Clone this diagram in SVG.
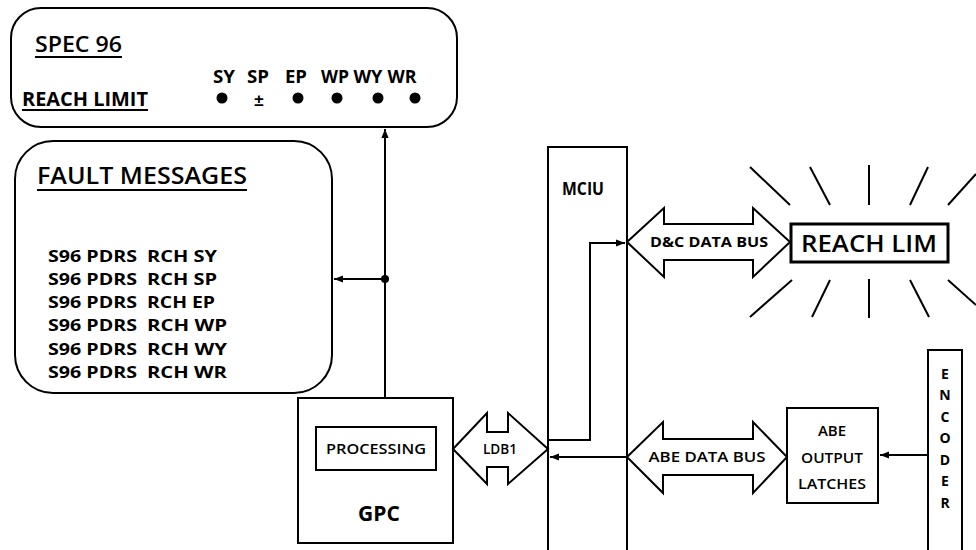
<svg xmlns="http://www.w3.org/2000/svg" width="976" height="550" viewBox="0 0 976 550">
<defs>
<style>
.ln{fill:none;stroke:#000;stroke-width:2}
.bx{fill:#fff;stroke:#000;stroke-width:2}
.t{font-family:"Open Sans","Liberation Sans",sans-serif;fill:#000;font-weight:700}
.r{font-family:"Open Sans","Liberation Sans",sans-serif;fill:#000;font-weight:600}
.c{text-anchor:middle}
</style>
<marker id="ah" viewBox="0 0 10 10" refX="10" refY="5" markerWidth="10" markerHeight="9" orient="auto" markerUnits="userSpaceOnUse">
<path d="M0,1 L10,5 L0,9 Z" fill="#000"/>
</marker>
</defs>
<rect width="976" height="550" fill="#fff"/>

<g id="spec96">
<rect class="bx" x="11" y="8" width="446" height="119" rx="30" ry="30"/>
<text class="r" x="35" y="52" font-size="22" textLength="87" lengthAdjust="spacingAndGlyphs">SPEC 96</text>
<line class="ln" x1="35" y1="57" x2="122" y2="57"/>
<text class="t" x="22" y="106" font-size="19" textLength="126" lengthAdjust="spacingAndGlyphs">REACH LIMIT</text>
<line class="ln" x1="22" y1="110" x2="148" y2="110"/>
<g class="t c" font-size="17">
<text x="224" y="83" textLength="22" lengthAdjust="spacingAndGlyphs">SY</text>
<text x="258" y="83" textLength="22" lengthAdjust="spacingAndGlyphs">SP</text>
<text x="296" y="83" textLength="22" lengthAdjust="spacingAndGlyphs">EP</text>
<text x="335" y="83" textLength="28" lengthAdjust="spacingAndGlyphs">WP</text>
<text x="368" y="83" textLength="29" lengthAdjust="spacingAndGlyphs">WY</text>
<text x="402" y="83" textLength="29" lengthAdjust="spacingAndGlyphs">WR</text>
</g>
<circle cx="222" cy="98" r="5.5"/>
<text x="259" y="106" font-family="'Liberation Sans',Arial,sans-serif" font-weight="700" font-size="17" text-anchor="middle">±</text>
<circle cx="298" cy="98" r="5.5"/>
<circle cx="337" cy="98" r="5.5"/>
<circle cx="378" cy="98" r="5.5"/>
<circle cx="415" cy="98" r="5.5"/>
</g>

<g id="fault">
<rect class="bx" x="15" y="141" width="317" height="252" rx="38" ry="38"/>
<text class="r" x="37" y="184" font-size="24" font-weight="500" textLength="210" lengthAdjust="spacingAndGlyphs">FAULT MESSAGES</text>
<line class="ln" x1="37" y1="190" x2="247" y2="190"/>
<g class="t" font-size="16.5">
<text x="48" y="262" textLength="89" lengthAdjust="spacingAndGlyphs">S96 PDRS</text><text x="147" y="262" textLength="70" lengthAdjust="spacingAndGlyphs">RCH SY</text>
<text x="48" y="285" textLength="89" lengthAdjust="spacingAndGlyphs">S96 PDRS</text><text x="147" y="285" textLength="70" lengthAdjust="spacingAndGlyphs">RCH SP</text>
<text x="48" y="308" textLength="89" lengthAdjust="spacingAndGlyphs">S96 PDRS</text><text x="147" y="308" textLength="68" lengthAdjust="spacingAndGlyphs">RCH EP</text>
<text x="48" y="331" textLength="89" lengthAdjust="spacingAndGlyphs">S96 PDRS</text><text x="147" y="331" textLength="80" lengthAdjust="spacingAndGlyphs">RCH WP</text>
<text x="48" y="355" textLength="89" lengthAdjust="spacingAndGlyphs">S96 PDRS</text><text x="147" y="355" textLength="80" lengthAdjust="spacingAndGlyphs">RCH WY</text>
<text x="48" y="378" textLength="89" lengthAdjust="spacingAndGlyphs">S96 PDRS</text><text x="147" y="378" textLength="80" lengthAdjust="spacingAndGlyphs">RCH WR</text>
</g>
</g>

<g id="gpc">
<rect class="bx" x="298" y="398" width="155" height="145"/>
<rect class="bx" x="316" y="427" width="120" height="43"/>
<text class="r c" x="376" y="454" font-size="14" textLength="100" lengthAdjust="spacingAndGlyphs">PROCESSING</text>
<text class="t c" x="379" y="521" font-size="21">GPC</text>
</g>

<g id="mciu">
<rect class="bx" x="548" y="147" width="79" height="410"/>
<text class="t c" x="583" y="195" font-size="17" textLength="42" lengthAdjust="spacingAndGlyphs">MCIU</text>
</g>

<g id="reachlim">
<rect x="791" y="224" width="157" height="38" fill="#fff" stroke="#000" stroke-width="3"/>
<text class="r c" x="869" y="252" font-size="24" font-weight="500" textLength="136" lengthAdjust="spacingAndGlyphs">REACH LIM</text>
<g class="ln" stroke-width="2">
<line x1="750" y1="167" x2="790" y2="205"/>
<line x1="810" y1="167" x2="830" y2="205"/>
<line x1="869" y1="165" x2="869" y2="205"/>
<line x1="928" y1="167" x2="910" y2="205"/>
<line x1="976" y1="174" x2="948" y2="205"/>
<line x1="792" y1="280" x2="750" y2="317"/>
<line x1="830" y1="280" x2="812" y2="317"/>
<line x1="869" y1="279" x2="869" y2="318"/>
<line x1="910" y1="280" x2="929" y2="317"/>
<line x1="948" y1="280" x2="976" y2="305"/>
</g>
</g>

<g id="latches">
<rect class="bx" x="787" y="408" width="91" height="95"/>
<g class="r c" font-size="15">
<text x="832" y="436">ABE</text>
<text x="832" y="463" textLength="62" lengthAdjust="spacingAndGlyphs">OUTPUT</text>
<text x="832" y="489" textLength="68" lengthAdjust="spacingAndGlyphs">LATCHES</text>
</g>
</g>

<g id="encoder">
<rect class="bx" x="928" y="350" width="34" height="210"/>
<g class="t c" font-size="14">
<text x="945" y="379">E</text>
<text x="945" y="400">N</text>
<text x="945" y="422">C</text>
<text x="945" y="443">O</text>
<text x="945" y="465">D</text>
<text x="945" y="486">E</text>
<text x="945" y="508">R</text>
</g>
</g>

<g id="buses">
<g id="ldb1">
<path class="bx" d="M453,449 L487,413 L487,432 L508,432 L508,413 L548,449 L508,484 L508,467 L487,467 L487,484 Z"/>
<text class="r c" x="500" y="454" font-size="14" textLength="34" lengthAdjust="spacingAndGlyphs">LDB1</text>
</g>
<g id="dcbus">
<path class="bx" d="M627,242 L664,208 L664,224 L753,224 L753,208 L790,242 L753,277 L753,260 L664,260 L664,277 Z"/>
<text class="t c" x="709" y="247" font-size="14" textLength="118" lengthAdjust="spacingAndGlyphs">D&amp;C DATA BUS</text>
</g>
<g id="abebus">
<path class="bx" d="M627,457 L663,422 L663,439 L753,439 L753,422 L787,457 L753,493 L753,475 L663,475 L663,493 Z"/>
<text class="r c" x="707" y="462" font-size="15" textLength="117" lengthAdjust="spacingAndGlyphs">ABE DATA BUS</text>
</g>
</g>

<g id="connectors">
<line class="ln" x1="385" y1="398" x2="385" y2="129" marker-end="url(#ah)"/>
<line class="ln" x1="385" y1="279" x2="334" y2="279" marker-end="url(#ah)"/>
<circle cx="385" cy="279" r="4"/>
<polyline class="ln" points="548,440 590,440 590,243 625,243" marker-end="url(#ah)"/>
<line class="ln" x1="627" y1="457" x2="550" y2="457" marker-end="url(#ah)"/>
<line class="ln" x1="928" y1="455" x2="880" y2="455" marker-end="url(#ah)"/>
</g>
</svg>
